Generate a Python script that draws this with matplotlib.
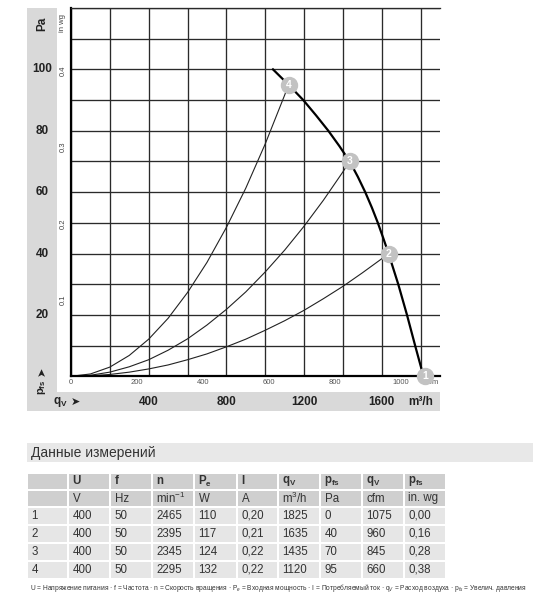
import matplotlib.pyplot as plt
from matplotlib.patches import Rectangle

plt.rcParams['font.family'] = ['Liberation Sans', 'DejaVu Sans']
plt.rcParams['mathtext.fontset'] = 'custom'
plt.rcParams['mathtext.rm'] = 'Liberation Sans'
plt.rcParams['mathtext.bf'] = 'Liberation Sans:bold'
plt.rcParams['mathtext.it'] = 'Liberation Sans:italic'

# fan curve (m3/h, Pa)
fan_q = [1040, 1120, 1196, 1262, 1325, 1382, 1435, 1477, 1515, 1549, 1580, 1608, 1635, 1660, 1685, 1730, 1772, 1815]
fan_p = [100, 95, 90, 85, 80, 75, 70, 65, 60, 55, 50, 45, 40, 35, 30, 20, 10, 0]

# system curves to the operating points 2, 3, 4
sys2_q = [0, 100, 200, 300, 400, 500, 600, 700, 800, 900, 1000, 1100, 1200, 1300, 1400, 1500, 1600, 1635]
sys2_p = [0, 0.15, 0.6, 1.35, 2.4, 3.7, 5.4, 7.3, 9.6, 12.1, 15.0, 18.1, 21.5, 25.3, 29.3, 33.7, 38.3, 40]
sys3_q = [0, 100, 200, 300, 400, 500, 600, 700, 800, 900, 1000, 1100, 1200, 1300, 1400, 1435]
sys3_p = [0, 0.34, 1.36, 3.1, 5.4, 8.5, 12.2, 16.7, 21.8, 27.5, 34.0, 41.1, 48.9, 57.4, 66.6, 70]
sys4_q = [0, 100, 200, 300, 400, 500, 600, 700, 800, 900, 1000, 1100, 1120]
sys4_p = [0, 0.76, 3.0, 6.8, 12.1, 18.9, 27.3, 37.1, 48.5, 61.3, 75.7, 91.6, 95]

# measurement table
row_ids = ['1', '2', '3', '4']
U = [400, 400, 400, 400]
f = [50, 50, 50, 50]
n = [2465, 2395, 2345, 2295]
Pe = [110, 117, 124, 132]
I = ['0,20', '0,21', '0,22', '0,22']
qv_m3h = [1825, 1635, 1435, 1120]
pfs_pa = [0, 40, 70, 95]
qv_cfm = [1075, 960, 845, 660]
pfs_inwg = ['0,00', '0,16', '0,28', '0,38']

head1 = ['', 'U', 'f', 'n', r'$\mathbf{P_e}$', 'I', r'$\mathbf{q_V}$', r'$\mathbf{p_{fs}}$', r'$\mathbf{q_V}$', r'$\mathbf{p_{fs}}$']
head2 = ['', 'V', 'Hz', 'min$^{-1}$', 'W', 'A', 'm$^3$/h', 'Pa', 'cfm', 'in. wg']

pa_ticks = [20, 40, 60, 80, 100]
inwg_ticks = [0.1, 0.2, 0.3, 0.4]
m3h_ticks = [400, 800, 1200, 1600]
cfm_ticks = [0, 200, 400, 600, 800, 1000]

W, H = 550, 600
fig = plt.figure(figsize=(W / 100, H / 100), dpi=100)


def rect(x0, y0, x1, y1, color):
    fig.patches.append(Rectangle((x0 / W, 1 - y1 / H), (x1 - x0) / W, (y1 - y0) / H,
                                 transform=fig.transFigure, color=color, lw=0, zorder=-1))


# gray bands around the chart
band = '#d9d9d9'
rect(27, 8, 57, 411, band)
rect(27, 392, 440, 411, band)

ax = fig.add_axes([71 / W, 1 - 376.3 / H, 369 / W, 368.3 / H])
ax.set_xlim(0, 1900)
ax.set_ylim(0, 120)
ax.set_xticks(range(0, 1801, 200))
ax.set_yticks(range(0, 121, 10))
ax.tick_params(length=0, labelleft=False, labelbottom=False)
ax.grid(True, color='#2a2a2a', lw=0.95)
ax.set_axisbelow(True)
ax.spines['right'].set_visible(False)
ax.spines['top'].set_color('#2a2a2a')
ax.spines['top'].set_linewidth(0.95)
ax.spines['left'].set_linewidth(1.6)
ax.spines['bottom'].set_linewidth(1.6)

ax.plot(sys2_q, sys2_p, color='#222222', lw=0.8)
ax.plot(sys3_q, sys3_p, color='#222222', lw=0.8)
ax.plot(sys4_q, sys4_p, color='#222222', lw=0.8)
ax.plot(fan_q, fan_p, color='black', lw=1.6)

for i in range(4):
    ax.plot(qv_m3h[i], pfs_pa[i], 'o', ms=11.5, color='#c2c2c2', clip_on=False, zorder=5)
    ax.text(qv_m3h[i], pfs_pa[i], row_ids[i], color='white', fontsize=7.5, fontweight='bold',
            ha='center', va='center', zorder=6, clip_on=False)

# left labels
ty = ax.get_yaxis_transform()
for v in pa_ticks:
    ax.text(-0.0786, v, str(v), transform=ty, ha='center', va='center',
            fontsize=8.5, fontweight='bold', color='#222222')
ax.text(-0.0786, 115, 'Pa', transform=ty, ha='center', va='center', rotation=90,
        fontsize=8.5, fontweight='bold', color='#222222')
ax.text(-0.0786, -3.5, r'$\mathbf{p_{fs}}$', transform=ty, ha='center', va='center', rotation=90,
        fontsize=8, color='#222222')
ax.text(-0.0786, 1.5, '➤', transform=ty, ha='center', va='center', rotation=90,
        fontsize=8, family='DejaVu Sans', color='#222222')
for v in inwg_ticks:
    ax.text(-0.022, v * 249.09, str(v), transform=ty, ha='center', va='center', rotation=90,
            fontsize=5.5, color='#444444')
ax.text(-0.022, 115, 'in wg', transform=ty, ha='center', va='center', rotation=90,
        fontsize=5.5, color='#444444')

# bottom labels
tx = ax.get_xaxis_transform()
for v in m3h_ticks:
    ax.text(v, -0.0698, str(v), transform=tx, ha='center', va='center',
            fontsize=8.5, fontweight='bold', color='#222222')
ax.text(1800, -0.0698, 'm³/h', transform=tx, ha='center', va='center',
        fontsize=8.5, fontweight='bold', color='#222222')
ax.text(-57, -0.0698, r'$\mathbf{q_V}$', transform=tx, ha='center', va='center',
        fontsize=8.5, color='#222222')
ax.text(22, -0.0698, '➤', transform=tx, ha='center', va='center',
        fontsize=8, family='DejaVu Sans', color='#222222')
for v in cfm_ticks:
    ax.text(v * 1.699, -0.018, str(v), transform=tx, ha='center', va='center',
            fontsize=5.5, color='#555555')
ax.text(1862, -0.018, 'cfm', transform=tx, ha='center', va='center', fontsize=5.5, color='#555555')

# table title
rect(27, 443, 533, 462, '#e8e8e8')
fig.text(31 / W, 1 - 453 / H, 'Данные измерений', fontsize=10, color='#333333', va='center')

# table
col_x = [27, 68, 110, 152, 194, 237, 278, 320, 362, 404, 446]
row_y = [473, 490, 507, 525, 543, 561, 579]
rows = [head1, head2]
for i in range(4):
    rows.append([row_ids[i], str(U[i]), str(f[i]), str(n[i]), str(Pe[i]), I[i],
                 str(qv_m3h[i]), str(pfs_pa[i]), str(qv_cfm[i]), pfs_inwg[i]])
for r, row in enumerate(rows):
    color = '#cfcfcf' if r < 2 else '#e6e6e6'
    for c, txt in enumerate(row):
        x0, x1 = col_x[c], col_x[c + 1]
        y0, y1 = row_y[r], row_y[r + 1]
        rect(x0 + 0.8, y0 + 0.8, x1 - 0.8, y1 - 0.8, color)
        fig.text((x0 + 4.5) / W, 1 - (y0 + y1) / 2 / H, txt, fontsize=8.3, color='#333333',
                 va='center', fontweight='bold' if r == 0 else 'normal')

fig.text(30 / W, 1 - 588 / H,
         'U = Напряжение питания · f = Частота · n = Скорость вращения · P$_e$ = Входная мощность · '
         'I = Потребляемый ток · q$_V$ = Расход воздуха · p$_{fs}$ = Увелич. давления',
         fontsize=4.8, color='#333333', va='center')

fig.savefig('out.png', dpi=100)
